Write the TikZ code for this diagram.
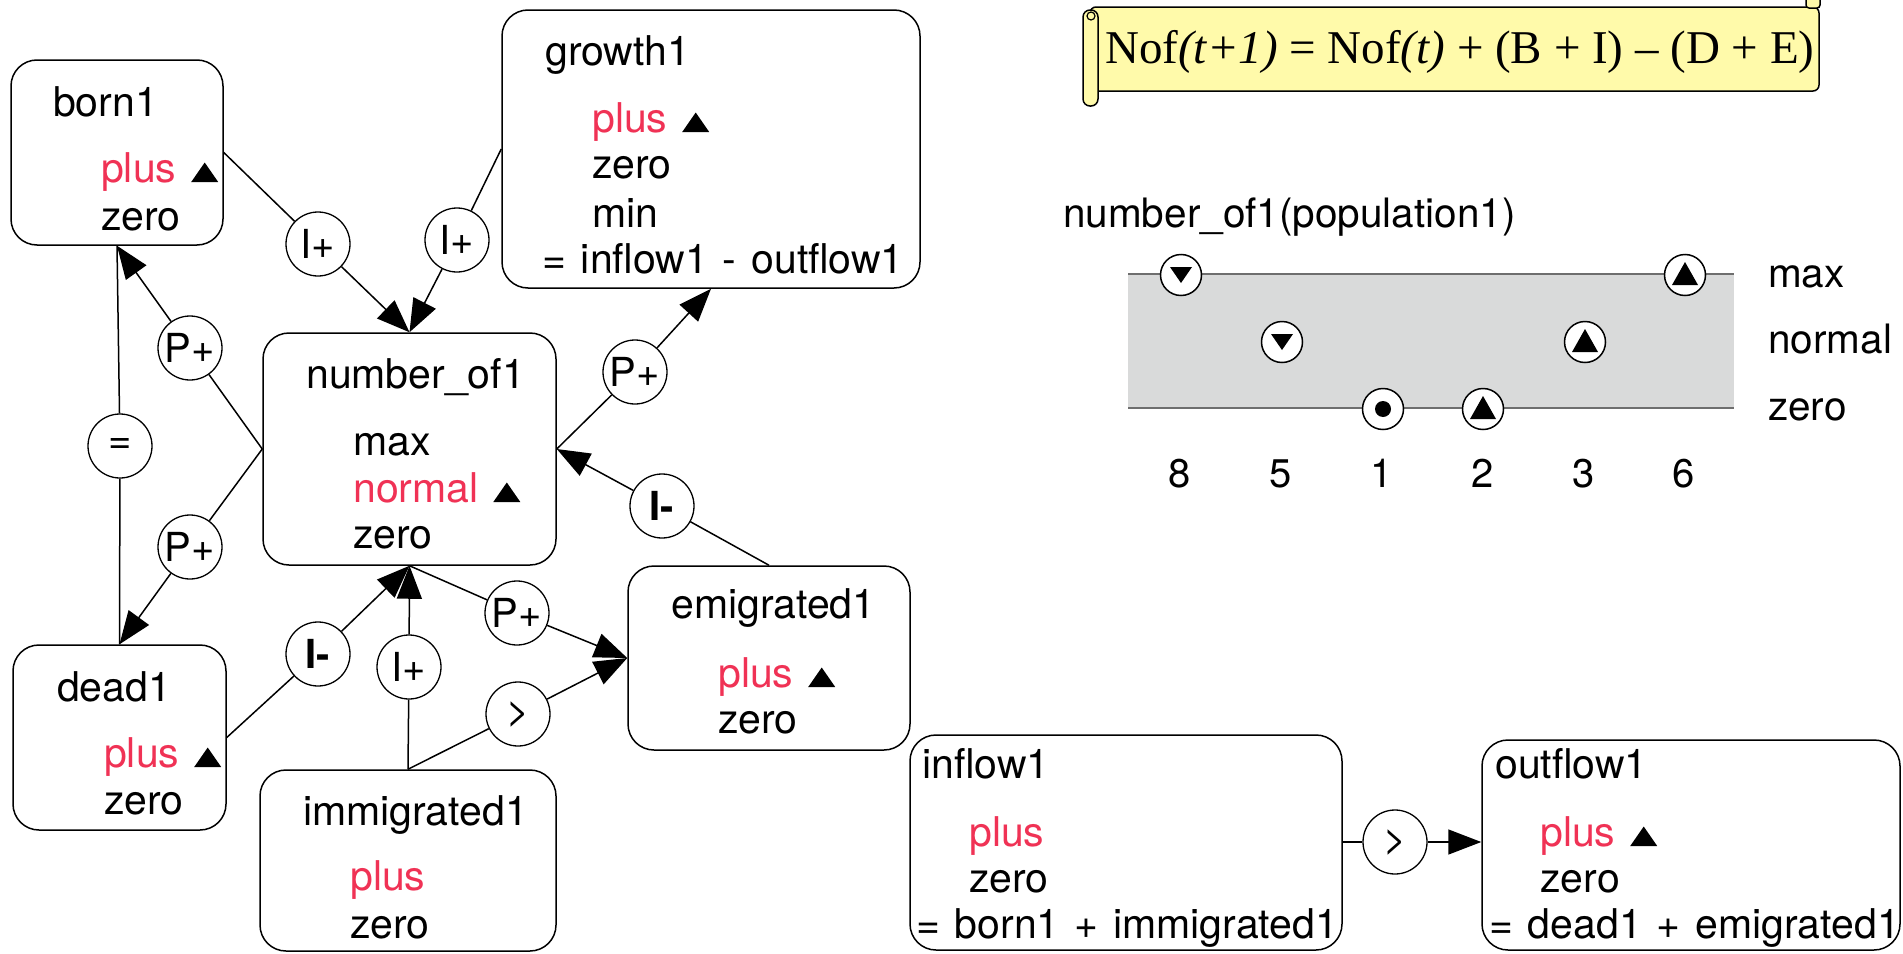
\documentclass[tikz,border=0pt]{standalone}
\usepackage{fontspec}
\setmainfont{TeX Gyre Heros}[WordSpace=1.3]
\newfontfamily\tnr{Liberation Serif}
\usetikzlibrary{arrows.meta}
\definecolor{qred}{RGB}{240,50,85}
\definecolor{scrollfill}{RGB}{255,250,170}
\definecolor{bandfill}{RGB}{217,218,218}
\definecolor{bandline}{RGB}{110,110,110}
\newcommand\uptri{\tikz[baseline=0pt]\fill[black] (0pt,0pt) -- (27pt,0pt) -- (13.5pt,19.5pt) -- cycle;}
\begin{document}
\begin{tikzpicture}[x=1pt,y=-1pt,
  box/.style={draw, line width=1.5pt, rounded corners=26pt, inner sep=0pt},
  rel/.style={draw, circle, line width=1.3pt, minimum size=64pt, inner sep=0pt, fill=white, font=\fontsize{40}{40}\selectfont},
  lbl/.style={anchor=base west, inner sep=0pt, font=\fontsize{41}{47}\selectfont},
  clbl/.style={anchor=base west, inner sep=0pt, font=\fontsize{40.5}{47}\selectfont},
  num/.style={anchor=base, inner sep=0pt, font=\fontsize{40}{47}\selectfont},
  con/.style={line width=1.5pt},
  arr/.style={con, -{Triangle[length=33pt,width=25pt]}},
  markc/.style={draw, circle, line width=1.5pt, minimum size=41pt, inner sep=0pt, fill=white},
  scroll/.style={draw, line width=1.5pt, fill=scrollfill}
]
\clip (0,0) rectangle (1903,953);
\fill[white] (0,0) rectangle (1903,953);

% ---------- boxes ----------
\node[box, minimum width=212pt, minimum height=185pt] (born1) at (117,152.5) {};
\node[box, minimum width=418pt, minimum height=278pt] (growth1) at (711,149) {};
\node[box, minimum width=293pt, minimum height=232pt] (number_of1) at (409.5,449) {};
\node[box, minimum width=213pt, minimum height=185pt] (dead1) at (119.5,737.5) {};
\node[box, minimum width=282pt, minimum height=184pt] (emigrated1) at (769,658) {};
\node[box, minimum width=296pt, minimum height=181pt] (immigrated1) at (408,860.5) {};
\node[box, minimum width=432pt, minimum height=215pt] (inflow1) at (1126,842.5) {};
\node[box, minimum width=418pt, minimum height=210pt] (outflow1) at (1691,845) {};

% ---------- box texts ----------
\node[lbl] (born1t) at (53,116) {born1};
\node[lbl] (born1p) at (101,182) {\textcolor{qred}{plus}~\uptri};
\node[lbl] (born1z) at (101,230) {zero};

\node[lbl] (growth1t) at (545,65) {growth1};
\node[lbl] (growth1p) at (592,132) {\textcolor{qred}{plus}~\uptri};
\node[lbl] (growth1z) at (592,178) {zero};
\node[lbl] (growth1m) at (592,227) {min};
\node[lbl] (growth1e) at (542,273) {= inflow1 - outflow1};

\node[lbl] (numt) at (306,388) {number\_of1};
\node[lbl] (numx) at (353,455) {max};
\node[lbl] (numn) at (353,502) {\textcolor{qred}{normal}~\uptri};
\node[lbl] (numz) at (353,548) {zero};

\node[lbl] (dead1t) at (57,701) {dead1};
\node[lbl] (dead1p) at (104,767) {\textcolor{qred}{plus}~\uptri};
\node[lbl] (dead1z) at (104,814) {zero};

\node[lbl] (emit) at (671,618) {emigrated1};
\node[lbl] (emip) at (718,687) {\textcolor{qred}{plus}~\uptri};
\node[lbl] (emiz) at (718,733) {zero};

\node[lbl] (immt) at (303,825) {immigrated1};
\node[lbl, text=qred] (immp) at (350,890) {plus};
\node[lbl] (immz) at (350,938) {zero};

\node[lbl] (inft) at (922,778) {inflow1};
\node[lbl, text=qred] (infp) at (969,846) {plus};
\node[lbl] (infz) at (969,892) {zero};
\node[lbl] (infe) at (916,938) {= born1 + immigrated1};

\node[lbl] (outt) at (1495,778) {outflow1};
\node[lbl] (outp) at (1540,846) {\textcolor{qred}{plus}~\uptri};
\node[lbl] (outz) at (1540,892) {zero};
\node[lbl] (oute) at (1489,938) {= dead1 + emigrated1};

% ---------- relation circles ----------
\node[rel] (ip1) at (318,244) {I+};
\node[rel] (ip2) at (457,240) {I+};
\node[rel] (pp1) at (190,348) {P+};
\node[rel] (eq) at (120,446) {=};
\node[rel] (pp2) at (190,547) {P+};
\node[rel] (pp3) at (635,372) {P+};
\node[rel] (im1) at (662,506) {\bfseries I-};
\node[rel] (im2) at (318,654) {\bfseries I-};
\node[rel] (ip3) at (409,667) {I+};
\node[rel] (pp4) at (517,613) {P+};
\node[rel] (gt1) at (518,714) {>};
\node[rel] (gt2) at (1395,842) {>};

% ---------- connectors ----------
\draw[con] (born1.east) -- (ip1);
\draw[arr] (ip1) -- (number_of1.north);
\draw[con] (growth1.west) -- (ip2);
\draw[arr] (ip2) -- (number_of1.north);
\draw[con] (number_of1.west) -- (pp1);
\draw[arr] (pp1) -- (born1.south);
\draw[con] (number_of1.west) -- (pp2);
\draw[arr] (pp2) -- (dead1.north);
\draw[con] (born1.south) -- (eq);
\draw[con] (eq) -- (dead1.north);
\draw[con] (number_of1.east) -- (pp3);
\draw[arr] (pp3) -- (growth1.south);
\draw[con] (emigrated1.north) -- (im1);
\draw[arr] (im1) -- (number_of1.east);
\draw[con] (dead1.east) -- (im2);
\draw[arr] (im2) -- (number_of1.south);
\draw[con] (immigrated1.north) -- (ip3);
\draw[arr] (ip3) -- (number_of1.south);
\draw[con] (number_of1.south) -- (pp4);
\draw[arr] (pp4) -- (emigrated1.west);
\draw[con] (immigrated1.north) -- (gt1);
\draw[arr] (gt1) -- (emigrated1.west);
\draw[con] (inflow1.east |- gt2) -- (gt2);
\draw[arr] (gt2) -- (gt2 -| outflow1.west);

% ---------- scroll with formula ----------
\path[scroll, rounded corners=6pt] (1090,7) -- (1819,7) -- (1819,91) -- (1090,91) -- cycle;
\path[scroll, rounded corners=3pt] (1806,-6) rectangle (1820,8);
\path[scroll, rounded corners=7pt] (1083,10) rectangle (1098,106);
\draw[line width=1.2pt] (1091,16) circle[radius=4pt];
\node[anchor=base west, inner sep=0pt, font=\tnr\fontsize{47}{50}\selectfont] (formula) at (1105,63)
  {Nof\textit{(t+1)} = Nof\textit{(t)} + (B + I) – (D + E)};

% ---------- behaviour chart ----------
\node[clbl] (charttitle) at (1063,227) {number\_of1(population1)};
\fill[bandfill] (1128,274) rectangle (1734,408);
\draw[bandline, line width=2pt] (1128,274) -- (1734,274);
\draw[bandline, line width=2pt] (1128,408) -- (1734,408);
\node[clbl] (cmax) at (1768,287) {max};
\node[clbl] (cnormal) at (1768,353) {normal};
\node[clbl] (czero) at (1768,420) {zero};

\node[markc] (m8) at (1181,275) {};
\node[markc] (m5) at (1282,342) {};
\node[markc] (m1) at (1383,409) {};
\node[markc] (m2) at (1483,409) {};
\node[markc] (m3) at (1585,342) {};
\node[markc] (m6) at (1685,275) {};
\fill (1170,267) -- (1192,267) -- (1181,283) -- cycle;
\fill (1271,334) -- (1293,334) -- (1282,350) -- cycle;
\fill (1383,409) circle[radius=8pt];
\fill (1470,419) -- (1496,419) -- (1483,396) -- cycle;
\fill (1572,352) -- (1598,352) -- (1585,329) -- cycle;
\fill (1672,285) -- (1698,285) -- (1685,262) -- cycle;

\node[num] (n8) at (1180,487) {8};
\node[num] (n5) at (1281,487) {5};
\node[num] (n1) at (1382,487) {1};
\node[num] (n2) at (1483,487) {2};
\node[num] (n3) at (1584,487) {3};
\node[num] (n6) at (1684,487) {6};
\end{tikzpicture}
\end{document}
